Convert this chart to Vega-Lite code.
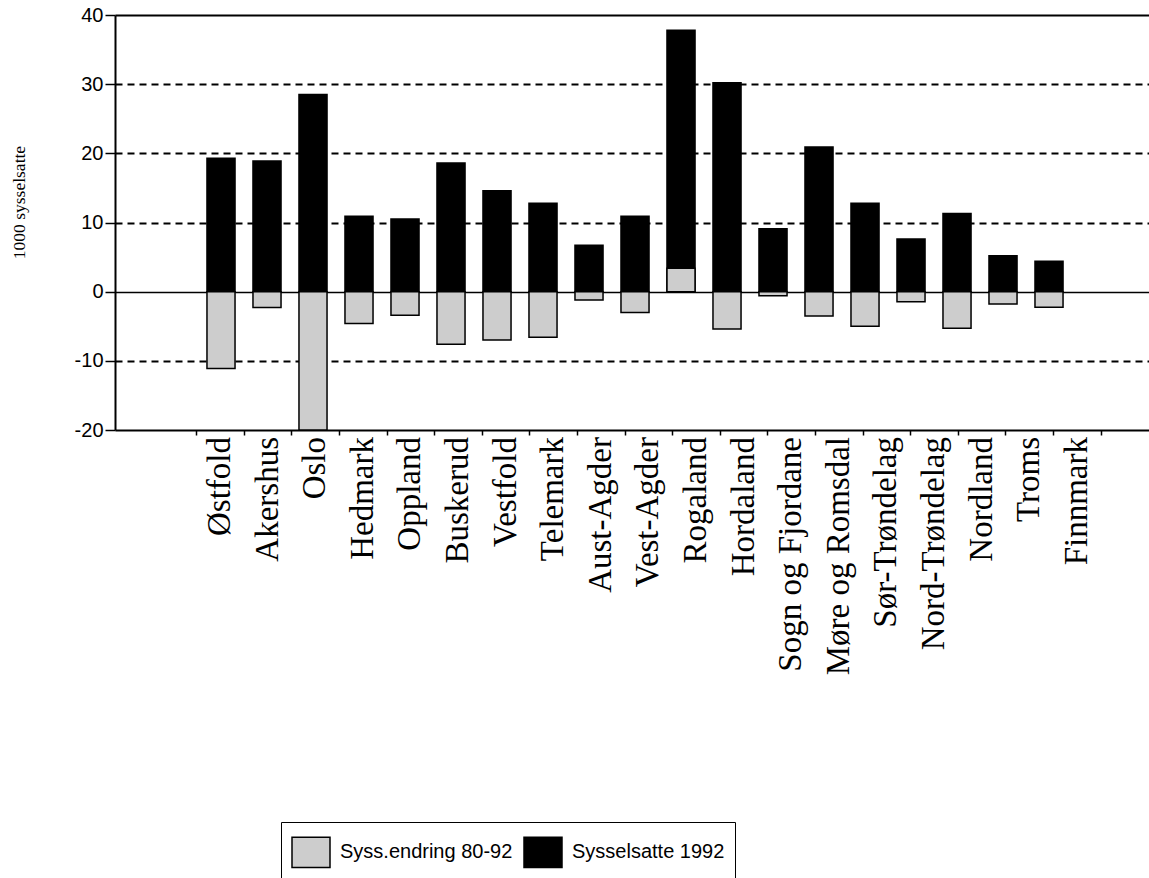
{
  "$schema": "https://vega.github.io/schema/vega-lite/v6.json",
  "width": 1034,
  "height": 415,
  "autosize": {"type": "none"},
  "padding": {"left": 115, "top": 15, "right": 0, "bottom": 448},
  "background": "white",
  "config": {"view": {"stroke": null}},
  "data": {
    "values": [
      {"fylke": "Østfold", "serie": "Sysselsatte 1992", "verdi": 19.3},
      {"fylke": "Akershus", "serie": "Sysselsatte 1992", "verdi": 18.9},
      {"fylke": "Oslo", "serie": "Sysselsatte 1992", "verdi": 28.5},
      {"fylke": "Hedmark", "serie": "Sysselsatte 1992", "verdi": 10.9},
      {"fylke": "Oppland", "serie": "Sysselsatte 1992", "verdi": 10.5},
      {"fylke": "Buskerud", "serie": "Sysselsatte 1992", "verdi": 18.6},
      {"fylke": "Vestfold", "serie": "Sysselsatte 1992", "verdi": 14.6},
      {"fylke": "Telemark", "serie": "Sysselsatte 1992", "verdi": 12.8},
      {"fylke": "Aust-Agder", "serie": "Sysselsatte 1992", "verdi": 6.7},
      {"fylke": "Vest-Agder", "serie": "Sysselsatte 1992", "verdi": 10.9},
      {"fylke": "Rogaland", "serie": "Sysselsatte 1992", "verdi": 37.8},
      {"fylke": "Hordaland", "serie": "Sysselsatte 1992", "verdi": 30.2},
      {"fylke": "Sogn og Fjordane", "serie": "Sysselsatte 1992", "verdi": 9.1},
      {"fylke": "Møre og Romsdal", "serie": "Sysselsatte 1992", "verdi": 20.9},
      {"fylke": "Sør-Trøndelag", "serie": "Sysselsatte 1992", "verdi": 12.8},
      {"fylke": "Nord-Trøndelag", "serie": "Sysselsatte 1992", "verdi": 7.6},
      {"fylke": "Nordland", "serie": "Sysselsatte 1992", "verdi": 11.3},
      {"fylke": "Troms", "serie": "Sysselsatte 1992", "verdi": 5.2},
      {"fylke": "Finnmark", "serie": "Sysselsatte 1992", "verdi": 4.4},
      {"fylke": "Østfold", "serie": "Syss.endring 80-92", "verdi": -11.1},
      {"fylke": "Akershus", "serie": "Syss.endring 80-92", "verdi": -2.3},
      {"fylke": "Oslo", "serie": "Syss.endring 80-92", "verdi": -20},
      {"fylke": "Hedmark", "serie": "Syss.endring 80-92", "verdi": -4.6},
      {"fylke": "Oppland", "serie": "Syss.endring 80-92", "verdi": -3.4},
      {"fylke": "Buskerud", "serie": "Syss.endring 80-92", "verdi": -7.6},
      {"fylke": "Vestfold", "serie": "Syss.endring 80-92", "verdi": -7.0},
      {"fylke": "Telemark", "serie": "Syss.endring 80-92", "verdi": -6.6},
      {"fylke": "Aust-Agder", "serie": "Syss.endring 80-92", "verdi": -1.2},
      {"fylke": "Vest-Agder", "serie": "Syss.endring 80-92", "verdi": -3.0},
      {"fylke": "Rogaland", "serie": "Syss.endring 80-92", "verdi": 3.4},
      {"fylke": "Hordaland", "serie": "Syss.endring 80-92", "verdi": -5.4},
      {"fylke": "Sogn og Fjordane", "serie": "Syss.endring 80-92", "verdi": -0.6},
      {"fylke": "Møre og Romsdal", "serie": "Syss.endring 80-92", "verdi": -3.5},
      {"fylke": "Sør-Trøndelag", "serie": "Syss.endring 80-92", "verdi": -5.0},
      {"fylke": "Nord-Trøndelag", "serie": "Syss.endring 80-92", "verdi": -1.45},
      {"fylke": "Nordland", "serie": "Syss.endring 80-92", "verdi": -5.3},
      {"fylke": "Troms", "serie": "Syss.endring 80-92", "verdi": -1.8},
      {"fylke": "Finnmark", "serie": "Syss.endring 80-92", "verdi": -2.25}
    ]
  },
  "resolve": {"scale": {"x": "independent"}, "axis": {"x": "independent"}},
  "layer": [
    {
      "mark": {"type": "bar", "stroke": "black", "strokeWidth": 1.5},
      "encoding": {
        "x": {
          "field": "fylke",
          "type": "nominal",
          "sort": null,
          "scale": {
            "type": "band",
            "domain": ["", "Østfold", "Akershus", "Oslo", "Hedmark", "Oppland", "Buskerud", "Vestfold", "Telemark", "Aust-Agder", "Vest-Agder", "Rogaland", "Hordaland", "Sogn og Fjordane", "Møre og Romsdal", "Sør-Trøndelag", "Nord-Trøndelag", "Nordland", "Troms", "Finnmark", " "],
            "paddingInner": 0.39,
            "paddingOuter": 0.934,
            "align": 0.535
          },
          "axis": null
        },
        "y": {
          "field": "verdi",
          "type": "quantitative",
          "stack": null,
          "scale": {"domain": [-20, 40], "nice": false},
          "axis": {
            "title": "1000 sysselsatte",
            "titleFont": "Liberation Serif",
            "titleFontSize": 17.5,
            "titleFontWeight": "normal",
            "titleColor": "black",
            "titleX": -96,
            "titleY": 187,
            "titleAngle": 270,
            "titleAlign": "center",
            "titleBaseline": "middle",
            "values": [-20, -10, 0, 10, 20, 30, 40],
            "labelExpr": "datum.value < 0 ? '-' + abs(datum.value) : '' + datum.value",
            "labelFont": "Liberation Sans",
            "labelFontSize": 20,
            "labelColor": "black",
            "labelPadding": 2,
            "tickSize": 10,
            "tickColor": "black",
            "tickWidth": 1.5,
            "domainColor": "black",
            "domainWidth": 2,
            "grid": true,
            "gridColor": "black",
            "gridWidth": {"condition": {"test": "datum.value == 0", "value": 1.5}, "value": 2},
            "gridDash": {"condition": {"test": "datum.value == 0 || datum.value == 40 || datum.value == -20", "value": []}, "value": [7, 5]}
          }
        },
        "color": {
          "field": "serie",
          "type": "nominal",
          "scale": {"domain": ["Syss.endring 80-92", "Sysselsatte 1992"], "range": ["#cdcdcd", "#000000"]},
          "legend": {
            "title": null,
            "orient": "none",
            "legendX": 166,
            "legendY": 807,
            "direction": "horizontal",
            "strokeColor": "black",
            "padding": 10,
            "columnPadding": 8,
            "labelOffset": 9,
            "labelLimit": 500,
            "symbolType": "M-1,-0.8H1V0.8H-1Z",
            "symbolSize": 1444,
            "symbolStrokeColor": "black",
            "symbolStrokeWidth": 1.5,
            "symbolOpacity": 1,
            "labelFont": "Liberation Sans",
            "labelFontSize": 20,
            "labelColor": "black"
          }
        }
      }
    },
    {
      "transform": [{"filter": "datum.serie == 'Sysselsatte 1992'"}],
      "mark": {
        "type": "text",
        "angle": 270,
        "align": "right",
        "baseline": "middle",
        "dx": -7,
        "font": "Liberation Serif",
        "fontSize": 33,
        "color": "black"
      },
      "encoding": {
        "x": {
          "field": "fylke",
          "type": "nominal",
          "sort": null,
          "scale": {"type": "band", "range": [81.2, 985.6], "paddingInner": 0, "paddingOuter": 0},
          "axis": {
            "title": null,
            "orient": "bottom",
            "labels": false,
            "domain": false,
            "tickBand": "extent",
            "tickSize": 5,
            "tickColor": "black",
            "tickWidth": 1.5
          }
        },
        "y": {"datum": -20, "type": "quantitative"},
        "text": {"field": "fylke", "type": "nominal"}
      }
    }
  ]
}
